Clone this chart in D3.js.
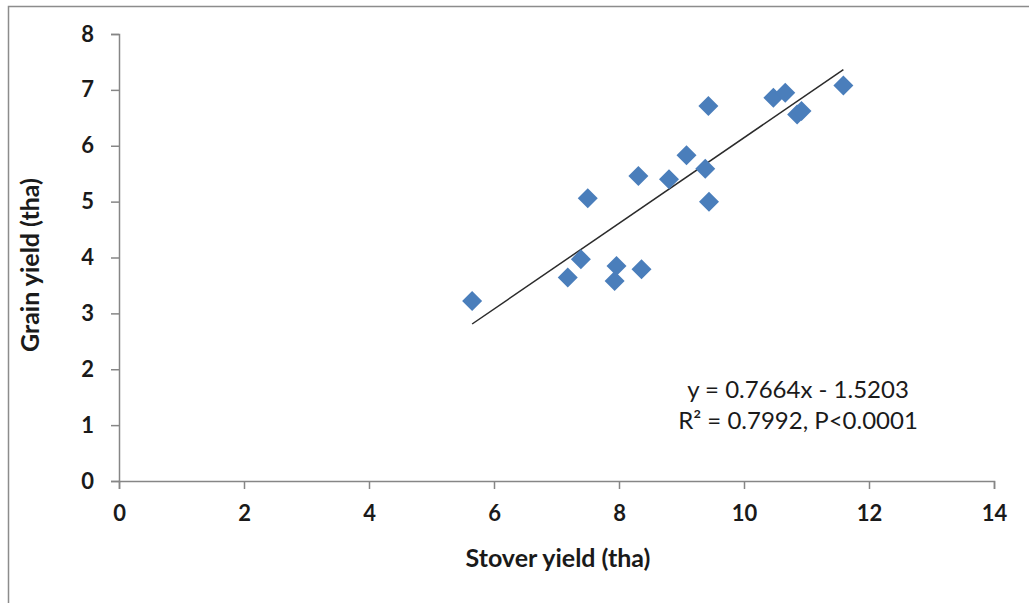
<!DOCTYPE html>
<html>
<head>
<meta charset="utf-8">
<script src="https://cdn.jsdelivr.net/npm/d3@7"></script>
<style>
  html, body { margin: 0; padding: 0; background: #fff; }
  svg { display: block; }
</style>
</head>
<body>
<svg id="chart" width="1029" height="603"></svg>
<script>
// Stover yield (t/ha) vs grain yield (t/ha)
const stover = [5.65, 7.18, 7.39, 7.50, 7.93, 7.96, 8.31, 8.36, 8.80, 9.08, 9.38, 9.43, 9.44, 10.47, 10.66, 10.85, 10.92, 11.59];
const grain  = [3.22, 3.64, 3.97, 5.06, 3.58, 3.85, 5.46, 3.79, 5.40, 5.83, 5.59, 6.71, 5.00, 6.86, 6.95, 6.56, 6.62, 7.08];

// Linear fit reported for the data
const slope = 0.7664;
const intercept = -1.5203;
const eqLines = ["y = 0.7664x - 1.5203", "R\u00B2 = 0.7992, P<0.0001"];

const xTicks = [0, 2, 4, 6, 8, 10, 12, 14];
const yTicks = [0, 1, 2, 3, 4, 5, 6, 7, 8];

const svg = d3.select("#chart");
const W = 1029, H = 603;

// outer chart frame
svg.append("rect")
  .attr("x", 8.5).attr("y", 6.5)
  .attr("width", W + 10).attr("height", H + 10)
  .attr("fill", "#fff").attr("stroke", "#8c8c8c").attr("stroke-width", 1.5);

const x = d3.scaleLinear().domain([0, 14]).range([119, 994]);
const y = d3.scaleLinear().domain([0, 8]).range([481, 34]);

const font = "Lato, 'Open Sans', sans-serif";
const axisColor = "#868686";

// x axis
const gx = svg.append("g").attr("transform", `translate(0,${y(0)})`)
  .call(d3.axisBottom(x).tickValues(xTicks).tickSize(8).tickPadding(16).tickFormat(d3.format("d")));
// y axis
const gy = svg.append("g").attr("transform", `translate(${x(0)},0)`)
  .call(d3.axisLeft(y).tickValues(yTicks).tickSize(8).tickPadding(17).tickFormat(d3.format("d")));

[gx, gy].forEach(g => {
  g.select(".domain").attr("stroke", axisColor).attr("stroke-width", 1.5);
  g.selectAll(".tick line").attr("stroke", axisColor).attr("stroke-width", 1.5);
  g.selectAll(".tick text")
    .attr("fill", "#1a1a1a")
    .style("font-family", font)
    .style("font-size", "22px")
    .style("font-weight", "700");
});

// fitted line across the range of the data
const xMin = d3.min(stover), xMax = d3.max(stover);
svg.append("line")
  .attr("x1", x(xMin)).attr("y1", y(slope * xMin + intercept))
  .attr("x2", x(xMax)).attr("y2", y(slope * xMax + intercept))
  .attr("stroke", "#2b2b2b").attr("stroke-width", 1.5);

// diamond markers
const half = 10;
const diamond = `M0,${-half}L${half},0L0,${half}L${-half},0Z`;
svg.append("g").selectAll("path")
  .data(d3.zip(stover, grain))
  .join("path")
  .attr("d", diamond)
  .attr("transform", d => `translate(${x(d[0])},${y(d[1])})`)
  .attr("fill", "#4a7ebb");

// regression equation
const eq = svg.append("text")
  .attr("text-anchor", "middle")
  .attr("fill", "#1a1a1a")
  .style("font-family", font)
  .style("font-size", "24px");
eqLines.forEach((t, i) => {
  eq.append("tspan").attr("x", 798).attr("y", 398 + i * 31).text(t);
});

// axis titles
svg.append("text")
  .attr("x", 558).attr("y", 567)
  .attr("text-anchor", "middle")
  .attr("fill", "#1a1a1a")
  .style("font-family", font).style("font-size", "25px").style("font-weight", "700")
  .text("Stover yield (tha)");

svg.append("text")
  .attr("transform", "translate(39,265) rotate(-90)")
  .attr("text-anchor", "middle")
  .attr("fill", "#1a1a1a")
  .style("font-family", font).style("font-size", "25px").style("font-weight", "700")
  .text("Grain yield (tha)");
</script>
</body>
</html>
